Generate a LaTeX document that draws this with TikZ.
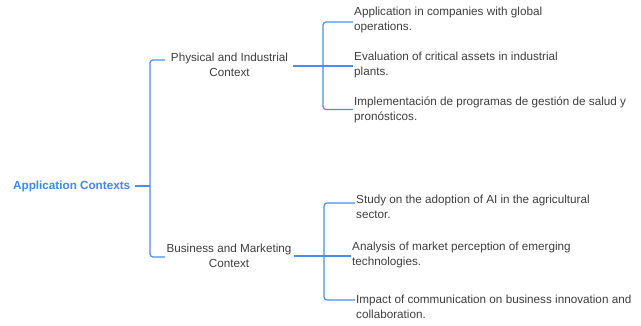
\documentclass[tikz,border=0pt]{standalone}
\usepackage{fontspec}
\setmainfont{Liberation Sans}
\definecolor{linkblue}{HTML}{4A8EEC}
\definecolor{rootblue}{HTML}{3D88F2}
\definecolor{ink}{HTML}{3E3E3E}
\begin{document}
\begin{tikzpicture}[x=1bp,y=-1bp,
  every node/.style={font=\fontsize{11.7bp}{15bp}\selectfont, text=ink},
  conn/.style={draw=linkblue, line width=1.2bp, rounded corners=3bp},
  rootnode/.style={font=\fontsize{11.7bp}{15bp}\selectfont\bfseries, text=rootblue, inner sep=0pt, anchor=west},
  midnode/.style={align=center, inner xsep=5bp, inner ysep=0pt},
  leaf/.style={align=left, anchor=west, inner xsep=1bp, inner ysep=0pt}]
\useasboundingbox (0,0) rectangle (641,325);

% root and the two contexts
\node[rootnode] (root) at (13,186) {Application Contexts};
\node[midnode] (phys) at (229.5,65) {Physical and Industrial\\Context};
\node[midnode] (biz) at (229,255.5) {Business and Marketing\\Context};

% leaves of the physical / industrial branch
\node[leaf] (l1) at (353,19.5) {Application in companies with global\\operations.};
\node[leaf] (l2) at (353,64.5) {Evaluation of critical assets in industrial\\plants.};
\node[leaf] (l3) at (353,109.5) {Implementación de programas de gestión de salud y\\pronósticos.};

% leaves of the business / marketing branch
\node[leaf] (m1) at (355,207) {Study on the adoption of AI in the agricultural\\sector.};
\node[leaf] (m2) at (351,254.5) {Analysis of market perception of emerging\\technologies.};
\node[leaf] (m3) at (355,306.5) {Impact of communication on business innovation and\\collaboration.};

% spine coordinates
\coordinate (hub) at (150,186);
\coordinate (physIn) at (165,60);
\coordinate (bizIn) at (165,257);
\coordinate (upHub) at (323,66);
\coordinate (loHub) at (324,256);

% root to contexts
\draw[conn] (root.east) ++(5,0) -- (hub);
\draw[conn] (physIn) -| (hub) |- (bizIn);

% physical / industrial branch
\draw[conn] (phys.east |- upHub) -- (l2.west |- upHub);
\draw[conn] ([yshift=-2.5bp]l1.west) -| (upHub) |- (l3.west);

% business / marketing branch
\draw[conn] ([xshift=-3bp]biz.east |- loHub) -- (m2.west |- loHub);
\draw[conn] ([yshift=4bp]m1.west) -| (loHub) |- ([yshift=6.5bp]m3.west);
\end{tikzpicture}
\end{document}
